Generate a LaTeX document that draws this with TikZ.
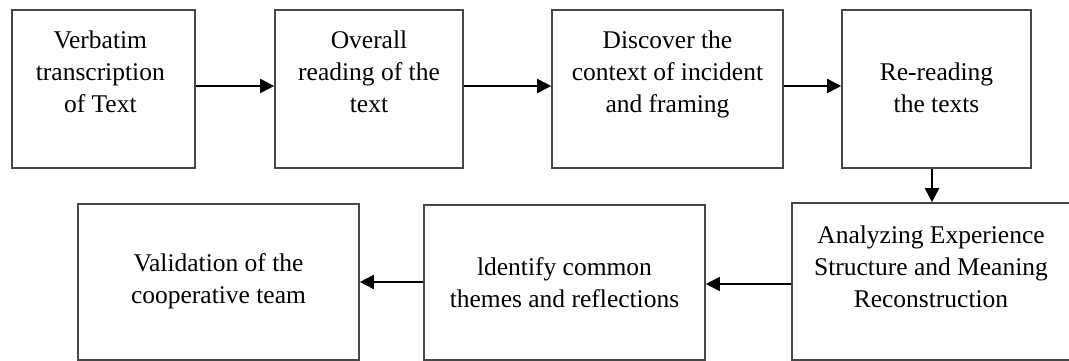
\documentclass[tikz,border=0pt]{standalone}
\usepackage{fontspec}
\setmainfont{Liberation Serif}
\usetikzlibrary{arrows.meta}
\begin{document}
\begin{tikzpicture}[x=1pt,y=-1pt,every node/.style={font=\fontsize{25.5}{32}\selectfont}]
    \tikzset{
      stage/.style={draw=black!72,line width=1.6pt,rectangle,inner sep=0pt},
      txt/.style={align=center,inner sep=0pt},
      arr/.style={-{Triangle[length=14pt,width=14pt]},line width=1.8pt}
    }
    \useasboundingbox (0,0) rectangle (1069,361);

    % upper row
    \node[stage,minimum width=183pt,minimum height=158pt] (b1) at (103.3,89) {};
    \node[stage,minimum width=188pt,minimum height=158pt] (b2) at (369,89) {};
    \node[stage,minimum width=231pt,minimum height=158pt] (b3) at (667.5,89) {};
    \node[stage,minimum width=189pt,minimum height=158pt] (b4) at (936.5,89) {};

    % lower row
    \node[stage,minimum width=278pt,minimum height=157pt] (b5) at (931,281.5) {};
    \node[stage,minimum width=281pt,minimum height=155pt] (b6) at (564.5,282.5) {};
    \node[stage,minimum width=281pt,minimum height=156pt] (b7) at (218.5,282) {};

    \node[txt] (t1) at ([xshift=-3pt,yshift=17.5pt]b1.center)
      {Verbatim\\transcription\\of Text};
    \node[txt] (t2) at ([yshift=17.5pt]b2.center)
      {Overall\\reading of the\\text};
    \node[txt] (t3) at ([yshift=15pt]b3.center)
      {Discover the\\context of incident\\and framing};
    \node[txt] (t4) at ([yshift=1.5pt]b4.center)
      {Re-reading\\the texts};
    \node[txt] (t5) at ([yshift=15pt]b5.center)
      {Analyzing Experience\\Structure and Meaning\\Reconstruction};
    \node[txt] (t6) at ([yshift=-0.5pt]b6.center)
      {ldentify common\\themes and reflections};
    \node[txt] (t7) at ([yshift=0.5pt]b7.center)
      {Validation of the\\cooperative team};

    \draw[arr] ([yshift=3pt]b1.east) -- ([yshift=3pt]b2.west);
    \draw[arr] ([yshift=3pt]b2.east) -- ([yshift=3pt]b3.west);
    \draw[arr] ([yshift=3pt]b3.east) -- ([yshift=3pt]b4.west);
    \draw[arr] ([xshift=-4.5pt]b4.south) -- ([xshift=-4.5pt]b4.south |- b5.north);
    \draw[arr] ([yshift=-2.5pt]b5.west) -- ([yshift=-2.5pt]b5.west -| b6.east);
    \draw[arr] ([yshift=0.5pt]b6.west) -- ([yshift=0.5pt]b6.west -| b7.east);
  \end{tikzpicture}
\end{document}
